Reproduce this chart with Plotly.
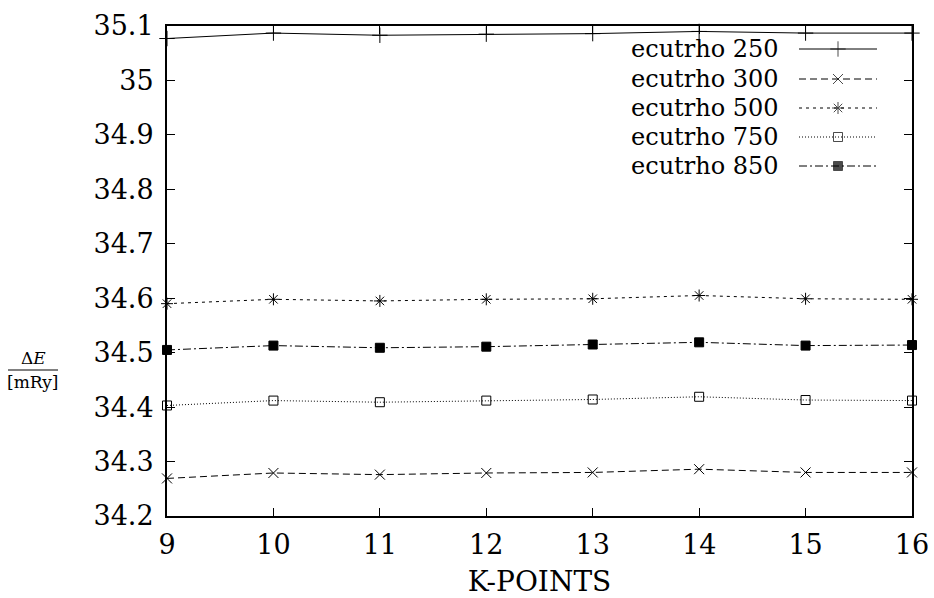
import plotly.graph_objects as go

# ---- data ----
kpoints = [9, 10, 11, 12, 13, 14, 15, 16]
series_names = ["ecutrho 250", "ecutrho 300", "ecutrho 500", "ecutrho 750", "ecutrho 850"]
e250 = [35.077, 35.087, 35.083, 35.085, 35.086, 35.090, 35.087, 35.087]
e300 = [34.269, 34.279, 34.276, 34.279, 34.280, 34.286, 34.280, 34.280]
e500 = [34.590, 34.598, 34.595, 34.598, 34.599, 34.605, 34.599, 34.598]
e750 = [34.403, 34.412, 34.409, 34.412, 34.414, 34.419, 34.413, 34.412]
e850 = [34.505, 34.513, 34.509, 34.511, 34.515, 34.519, 34.513, 34.514]
y_tickvals = [34.2, 34.3, 34.4, 34.5, 34.6, 34.7, 34.8, 34.9, 35.0, 35.1]
y_ticktext = ["34.2", "34.3", "34.4", "34.5", "34.6", "34.7", "34.8", "34.9", "35", "35.1"]
x_tickvals = [9, 10, 11, 12, 13, 14, 15, 16]

# ---- styles ----
W, H = 934, 598
# plot area on screen: x 167..912, y 26..516
L, T = 167, 26
R = W - 912
B = H - 516
FONT = "DejaVu Serif"
styles = [
    dict(dash="solid", symbol="cross-thin", size=11),
    dict(dash="7px,4px", symbol="x-thin", size=10),
    dict(dash="3px,4px", symbol="asterisk", size=10),
    dict(dash="1px,2px", symbol="square-open", size=9),
    dict(dash="8px,3px,2px,3px", symbol="square", size=9),
]
all_series = [e250, e300, e500, e750, e850]

def px2x(px):  # screen px -> paper x
    return (px - L) / (W - L - R)

def py2y(py):  # screen px -> paper y
    return (H - B - py) / (H - T - B)

fig = go.Figure()
for name, ys, st in zip(series_names, all_series, styles):
    fig.add_trace(go.Scatter(
        x=kpoints, y=ys, name=name, mode="lines+markers", cliponaxis=False,
        line=dict(color="black", width=1, dash=st["dash"]),
        marker=dict(symbol=st["symbol"], size=st["size"], color="black",
                    line=dict(color="black", width=1)),
        showlegend=False,
    ))

# gnuplot-style key: text right-aligned, line sample to the right
row_py = [49, 79, 108, 137, 166]
annotations = []
for name, st, py in zip(series_names, styles, row_py):
    yy = py2y(py)
    fig.add_trace(go.Scatter(
        x=[px2x(799), px2x(838), px2x(877)], y=[yy, yy, yy],
        xaxis="x2", yaxis="y2", mode="lines+markers", cliponaxis=False,
        line=dict(color="black", width=1, dash=st["dash"]),
        marker=dict(symbol=st["symbol"], size=[0, st["size"], 0], color="black",
                    line=dict(color="black", width=1)),
        showlegend=False, hoverinfo="skip",
    ))
    annotations.append(dict(
        x=px2x(781), y=yy, xref="paper", yref="paper", text=name,
        xanchor="right", yanchor="middle", showarrow=False,
        font=dict(family=FONT, size=24, color="black"),
    ))

# y-axis label as a fraction
annotations.append(dict(x=px2x(33), y=py2y(358), xref="paper", yref="paper",
                        text="Δ<i>E</i>", showarrow=False, xanchor="center", yanchor="middle",
                        font=dict(family=FONT, size=17, color="black")))
annotations.append(dict(x=px2x(33), y=py2y(382), xref="paper", yref="paper",
                        text="[mRy]", showarrow=False, xanchor="center", yanchor="middle",
                        font=dict(family=FONT, size=17, color="black")))
shapes = [dict(type="line", xref="paper", yref="paper",
               x0=px2x(8), x1=px2x(58), y0=py2y(370), y1=py2y(370),
               line=dict(color="black", width=1))]

fig.update_layout(
    width=W, height=H,
    margin=dict(l=L, r=R, t=T, b=B, pad=0, autoexpand=False),
    paper_bgcolor="white", plot_bgcolor="white",
    font=dict(family=FONT, size=27, color="black"),
    annotations=annotations, shapes=shapes,
    xaxis=dict(range=[9, 16], tickvals=x_tickvals, ticks="inside", ticklen=8,
               tickwidth=1, tickcolor="black", showline=True, linecolor="black",
               linewidth=2, mirror="ticks", showgrid=False, zeroline=False,
               automargin=False, ticklabelstandoff=4,
               title=dict(text="K-POINTS", standoff=12,
                          font=dict(family=FONT, size=28)),
               tickfont=dict(family=FONT, size=27)),
    yaxis=dict(range=[34.2, 35.1], tickvals=y_tickvals, ticktext=y_ticktext,
               ticks="inside", ticklen=8, tickwidth=1, tickcolor="black",
               showline=True, linecolor="black", linewidth=2, mirror="ticks",
               showgrid=False, zeroline=False, automargin=False,
               ticklabelstandoff=6,
               tickfont=dict(family=FONT, size=27)),
    xaxis2=dict(range=[0, 1], overlaying="x", visible=False),
    yaxis2=dict(range=[0, 1], overlaying="y", visible=False),
)

# remove the default page margin so the figure fills the window exactly
fig.write_html("out.html", config={"displayModeBar": False},
               post_script="document.body.style.margin='0';document.body.style.overflow='hidden';")
